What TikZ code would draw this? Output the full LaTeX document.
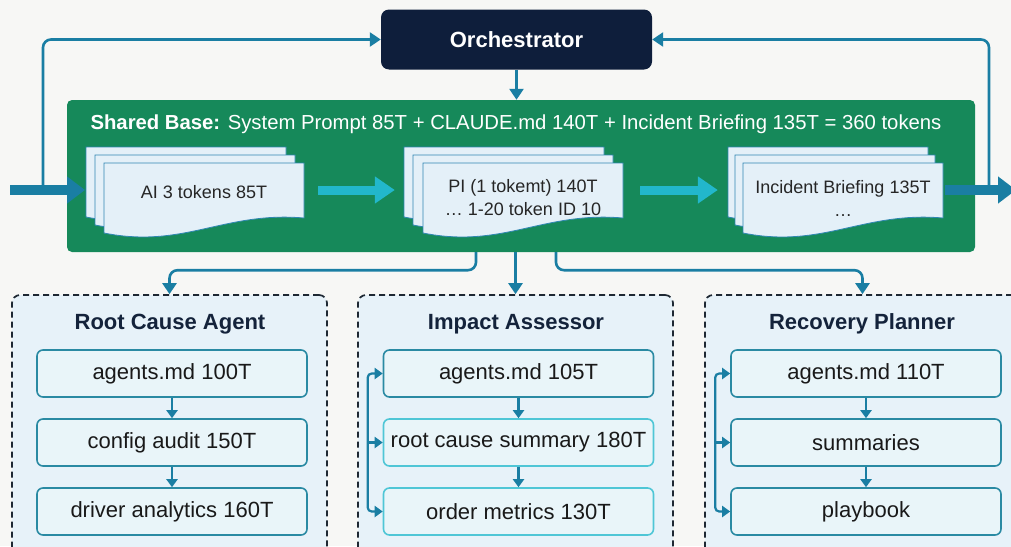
\documentclass[tikz,border=0pt]{standalone}
\usepackage{fontspec}
\setmainfont{Liberation Sans}
\usetikzlibrary{arrows.meta,calc}

\definecolor{bgc}{HTML}{F7F7F5}
\definecolor{navy}{HTML}{0E1E3B}
\definecolor{basegreen}{HTML}{16895A}
\definecolor{linkc}{HTML}{1A7EA3}
\definecolor{flowc}{HTML}{22B7CB}
\definecolor{sheetfill}{HTML}{E4F0F8}
\definecolor{sheetline}{HTML}{2F86B2}
\definecolor{agentfill}{HTML}{E7F2F9}
\definecolor{dashc}{HTML}{1E2833}
\definecolor{stepfill}{HTML}{E9F5F9}
\definecolor{stepline}{HTML}{2A8AA3}
\definecolor{stephi}{HTML}{4FC6D6}
\definecolor{titlec}{HTML}{14233B}

\tikzset{
  orchbox/.style={draw=none, fill=navy, rounded corners=8pt, minimum width=271pt,
    minimum height=60pt, text=white, font=\fontsize{22}{26}\selectfont\bfseries},
  basebox/.style={draw=none, fill=basegreen, rounded corners=5pt, minimum width=908pt,
    minimum height=152pt},
  basetitle/.style={text=white, font=\fontsize{20.3}{24}\selectfont, inner sep=0pt},
  sheetsty/.style={fill=sheetfill, draw=sheetline, line width=0.8pt},
  docframe/.style={minimum width=200pt, minimum height=54pt, inner sep=0pt},
  doctext/.style={font=\fontsize{18}{23}\selectfont, align=center, text=black!85, inner sep=0pt},
  agentbox/.style={draw=dashc, fill=agentfill, dash pattern=on 6pt off 4pt, line width=1.7pt,
    rounded corners=8pt, minimum width=315pt, minimum height=260pt},
  agenttitle/.style={text=titlec, font=\fontsize{22}{26}\selectfont\bfseries, inner sep=0pt},
  stepbox/.style={draw=stepline, fill=stepfill, line width=1.6pt, rounded corners=6pt,
    minimum width=270pt, minimum height=47pt, text=black!90,
    font=\fontsize{22}{26}\selectfont},
  stephot/.style={stepbox, draw=stephi},
  conn/.style={draw=linkc, line width=2.6pt, rounded corners=8pt,
    -{Triangle[length=11pt,width=14pt]}},
  connsmall/.style={draw=linkc, line width=2.2pt,
    -{Triangle[length=8pt,width=11pt]}},
  bracket/.style={draw=linkc, line width=2.2pt, rounded corners=4pt},
  fatblue/.style={draw=linkc, line width=10pt,
    -{Triangle[length=18pt,width=26pt]}},
  fatcyan/.style={draw=flowc, line width=9pt,
    -{Triangle[length=20pt,width=26pt]}},
}

% one sheet of a document stack, top-left corner at #1,#2
\newcommand\docsheet[2]{%
  \begin{scope}[shift={(#1,#2)}]
    \filldraw[sheetsty] (0,0) -- (200,0) -- (200,55)
      .. controls (120,48) and (80,86) .. (0,70) -- cycle;
  \end{scope}}

\begin{document}
\begin{tikzpicture}[x=1pt,y=-1pt]
  \clip (0,0) rectangle (1011,546);
  \fill[bgc] (0,0) rectangle (1011,546);

  % orchestrator and shared base
  \node[orchbox] (orch) at (516.5,39.5) {Orchestrator};
  \node[basebox] (base) at (521,176) {};
  \node[basetitle] (basettl) at (516,124)
    {\textbf{Shared Base:} System Prompt 85T + CLAUDE.md 140T + Incident Briefing 135T = 360 tokens};

  % document stacks
  \docsheet{86}{147}\docsheet{95}{155}\docsheet{104}{163}
  \docsheet{404}{147}\docsheet{413}{155}\docsheet{423}{163}
  \docsheet{728}{147}\docsheet{735}{155}\docsheet{743}{163}

  \node[docframe] (docA) at (204,190) {};
  \node[docframe] (docB) at (523,190) {};
  \node[docframe] (docC) at (843,190) {};
  \node[doctext] (txtA) at (204,192) {AI 3 tokens 85T};
  \node[doctext] (txtB) at (523,197.5) {PI (1 tokemt) 140T\\… 1-20 token ID 10};
  \node[doctext] (txtC) at (843,198) {Incident Briefing 135T\\…};

  \draw[fatcyan] ([xshift=14pt]docA.east) -- ([xshift=-28pt]docB.west);
  \draw[fatcyan] ([xshift=17pt]docB.east) -- ([xshift=-25pt]docC.west);

  % input and output around the base
  \coordinate (inL) at (10,190);
  \coordinate (inTip) at (85,190);
  \coordinate (splitL) at (43,190);
  \coordinate (outTip) at (1016,190);
  \coordinate (splitR) at (989,190);
  \draw[fatblue] (inL) -- (inTip);
  \draw[fatblue] ([xshift=2pt]docC.east) -- (outTip);
  \draw[conn] (splitL) |- (orch.west);
  \draw[conn] (splitR) |- (orch.east);
  \draw[conn] (orch.south) -- (orch.south |- base.north);

  % agents
  \node[agentbox] (rc) at (169.5,425) {};
  \node[agentbox] (ia) at (515.5,425) {};
  \node[agentbox] (rp) at (862.5,425) {};

  \node[agenttitle] (rcT) at (170,324) {Root Cause Agent};
  \node[agenttitle] (iaT) at (516,324) {Impact Assessor};
  \node[agenttitle] (rpT) at (862,324) {Recovery Planner};

  \node[stepbox] (rc1) at (172,373.5) {agents.md 100T};
  \node[stepbox] (rc2) at (172,442.5) {config audit 150T};
  \node[stepbox] (rc3) at (172,511.5) {driver analytics 160T};

  \node[stepbox] (ia1) at (518.5,373.5) {agents.md 105T};
  \node[stephot] (ia2) at (518.5,442.5) {root cause summary 180T};
  \node[stephot] (ia3) at (518.5,511.5) {order metrics 130T};

  \node[stepbox] (rp1) at (866,373.5) {agents.md 110T};
  \node[stepbox] (rp2) at (866,442.5) {summaries};
  \node[stepbox] (rp3) at (866,511.5) {playbook};

  % base fans out to the agents
  \draw[conn] ([xshift=-45pt]base.south) -- ++(0,18) -| (rc.north);
  \draw[conn] (ia.north |- base.south) -- (ia.north);
  \draw[conn] ([xshift=35pt]base.south) -- ++(0,18) -| (rp.north);

  % steps inside each agent
  \foreach \a in {rc,ia,rp}{
    \draw[connsmall] (\a1.south) -- (\a2.north);
    \draw[connsmall] (\a2.south) -- (\a3.north);
  }

  % context fed back to every step
  \foreach \a in {ia,rp}{
    \draw[bracket,{Triangle[length=8pt,width=11pt]}-{Triangle[length=8pt,width=11pt]}]
      (\a1.west) -| ([xshift=-15pt]\a2.west) |- (\a3.west);
    \draw[connsmall] ([xshift=-15pt]\a2.west) -- (\a2.west);
  }
\end{tikzpicture}
\end{document}
